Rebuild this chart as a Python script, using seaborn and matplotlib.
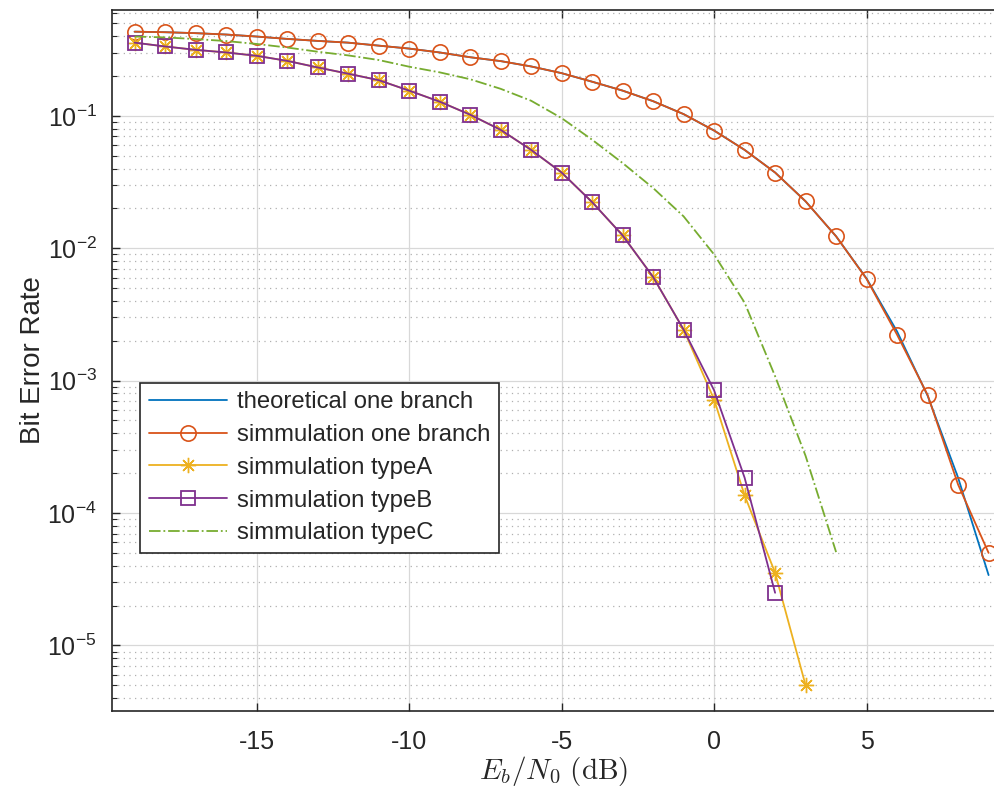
import matplotlib
matplotlib.use('Agg')
import matplotlib.pyplot as plt
import seaborn as sns
import numpy as np

# Eb/N0 points (dB)
ebn0_one = list(range(-19, 10))
ebn0_a = list(range(-19, 4))
ebn0_b = list(range(-19, 3))
ebn0_c = list(range(-19, 5))

# BER values
theory_one = [0.432, 0.428, 0.421, 0.411, 0.397, 0.381, 0.368, 0.357, 0.339, 0.322,
              0.301, 0.277, 0.259, 0.236, 0.210, 0.181, 0.155, 0.129, 0.103, 0.0774,
              0.0553, 0.0373, 0.0226, 0.0123, 0.00590, 0.00235, 0.00077, 0.000185, 0.0000340]
sim_one = [0.432, 0.428, 0.421, 0.411, 0.397, 0.381, 0.368, 0.357, 0.339, 0.322,
           0.301, 0.277, 0.259, 0.236, 0.210, 0.181, 0.155, 0.129, 0.103, 0.0774,
           0.0553, 0.0373, 0.0226, 0.0123, 0.00586, 0.00222, 0.00078, 0.000164, 0.0000500]
sim_a = [0.357, 0.334, 0.315, 0.301, 0.284, 0.260, 0.232, 0.208, 0.186, 0.155,
         0.128, 0.102, 0.0784, 0.0553, 0.0373, 0.0223, 0.0125, 0.00607, 0.00243,
         0.00072, 0.000136, 0.0000354, 0.0000050]
sim_b = [0.357, 0.334, 0.315, 0.301, 0.284, 0.260, 0.232, 0.208, 0.186, 0.155,
         0.128, 0.102, 0.0784, 0.0553, 0.0373, 0.0223, 0.0125, 0.00607, 0.00243,
         0.000845, 0.000185, 0.0000250]
sim_c = [0.397, 0.391, 0.380, 0.367, 0.349, 0.328, 0.305, 0.286, 0.264, 0.235,
         0.213, 0.189, 0.160, 0.130, 0.0961, 0.0660, 0.0440, 0.0285, 0.0174,
         0.00897, 0.00388, 0.00108, 0.000270, 0.0000507]

ytick_vals = [1e-5, 1e-4, 1e-3, 1e-2, 1e-1]
ytick_labels = [r'$\mathregular{10^{-5}}$', r'$\mathregular{10^{-4}}$', r'$\mathregular{10^{-3}}$',
                r'$\mathregular{10^{-2}}$', r'$\mathregular{10^{-1}}$']
xtick_vals = [-15, -10, -5, 0, 5]

sns.set_theme(style='white')
plt.rcParams['font.family'] = ['Liberation Sans', 'DejaVu Sans']
plt.rcParams['axes.unicode_minus'] = False

fig = plt.figure(figsize=(9.95, 7.92), dpi=100)
ax = fig.add_axes([0.1126, 0.1023, 0.8874, 0.8851])
ax.set_yscale('log')

lw = 1.3
sns.lineplot(x=ebn0_one, y=theory_one, ax=ax, color='#0072BD', lw=lw,
             label='theoretical one branch')
sns.lineplot(x=ebn0_one, y=sim_one, ax=ax, color='#D95319', lw=lw, marker='o',
             markersize=11, markerfacecolor='none', markeredgecolor='#D95319',
             markeredgewidth=1.2, label='simmulation one branch')
sns.lineplot(x=ebn0_a, y=sim_a, ax=ax, color='#EDB120', lw=lw, marker=(8, 2, 0),
             markersize=11, markeredgecolor='#EDB120', markeredgewidth=1.0,
             label='simmulation typeA')
sns.lineplot(x=ebn0_b, y=sim_b, ax=ax, color='#7E2F8E', lw=lw, marker='s',
             markersize=10, markerfacecolor='none', markeredgecolor='#7E2F8E',
             markeredgewidth=1.3, label='simmulation typeB')
sns.lineplot(x=ebn0_c, y=sim_c, ax=ax, color='#77AC30', lw=lw, ls='-.',
             label='simmulation typeC')

ax.set_xlim(-19.74, 9.21)
ax.set_ylim(3.2e-6, 0.63)
ax.set_xticks(xtick_vals)
ax.set_xticklabels([str(v) for v in xtick_vals])
ax.set_yticks(ytick_vals)
ax.set_yticklabels(ytick_labels)
ax.yaxis.set_minor_locator(matplotlib.ticker.LogLocator(base=10, subs=np.arange(2, 10)))
ax.yaxis.set_minor_formatter(matplotlib.ticker.NullFormatter())

ax.tick_params(axis='both', which='major', direction='in', length=6, width=1,
               labelsize=18, colors='#262626', top=True, right=False, left=True, bottom=True)
ax.tick_params(axis='x', which='major', pad=14)
ax.tick_params(axis='y', which='major', pad=11)
ax.tick_params(axis='y', which='minor', direction='in', length=3.5, width=0.8,
               colors='#262626', left=True, right=False)

ax.grid(True, which='major', color='#d8d8d8', lw=0.9, ls='-')
ax.yaxis.grid(True, which='minor', color='#b0b0b0', lw=0.9, ls=(0, (1, 3.5)))
ax.set_axisbelow(True)

for side in ['left', 'bottom', 'top']:
    ax.spines[side].set_color('#262626')
    ax.spines[side].set_linewidth(1.2)
ax.spines['right'].set_visible(False)

ax.set_xlabel(r'$E_b/N_0\ (\mathrm{dB})$', fontsize=21, math_fontfamily='cm',
              color='#262626', labelpad=0)
ax.set_ylabel('Bit Error Rate', fontsize=20, color='#262626', labelpad=1)

leg = ax.legend(loc='upper left', bbox_to_anchor=(0.032, 0.468), borderaxespad=0,
                fontsize=17.2, handlelength=3.3, labelspacing=0.45, fancybox=False,
                framealpha=1, edgecolor='#262626', borderpad=0.35, handletextpad=0.4)
leg.get_frame().set_linewidth(1.2)

fig.savefig('out.png', dpi=100)
